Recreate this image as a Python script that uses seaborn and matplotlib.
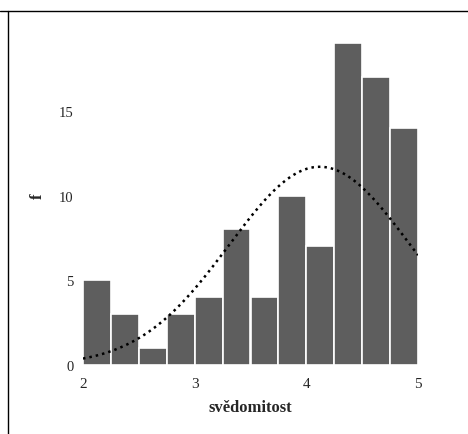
import numpy as np
import pandas as pd
import matplotlib
matplotlib.use("Agg")
import matplotlib.pyplot as plt
from matplotlib.lines import Line2D
import seaborn as sns

# Histogram of "svědomitost" scores: bin edges and frequencies
bin_edges = [2.0, 2.25, 2.5, 2.75, 3.0, 3.25, 3.5, 3.75, 4.0, 4.25, 4.5, 4.75, 5.0]
frequencies = [5, 3, 1, 3, 4, 8, 4, 10, 7, 19, 17, 14]

# Fitted normal curve parameters
curve_mean = 4.12
curve_sd = 0.81

x_ticks = [2, 3, 4, 5]
y_ticks = [0, 5, 10, 15]

sns.set_theme(style="white")
plt.rcParams["font.family"] = ["Liberation Serif", "DejaVu Serif"]

W, H = 468, 435
fig = plt.figure(figsize=(W / 100, H / 100), dpi=100)
fig.patch.set_facecolor("white")

x0, x1 = 83, 418          # pixel columns of x = 2 and x = 5
yb = 366                  # pixel row of y = 0
ymax = 20.0
px_per_unit = (366 - 44) / 19.0
ax = fig.add_axes([x0 / W, (H - yb) / H, (x1 - x0) / W, ymax * px_per_unit / H])

mids = [(a + b) / 2 for a, b in zip(bin_edges[:-1], bin_edges[1:])]
df = pd.DataFrame({"svedomitost": mids, "f": frequencies})
sns.histplot(data=df, x="svedomitost", weights="f", bins=bin_edges, ax=ax,
             color="#5e5e5e", alpha=1.0, edgecolor="white", linewidth=1.2)

n_total = sum(frequencies)
bin_width = bin_edges[1] - bin_edges[0]
xs = np.linspace(bin_edges[0], bin_edges[-1], 300)
ys = n_total * bin_width * np.exp(-0.5 * ((xs - curve_mean) / curve_sd) ** 2) / (curve_sd * np.sqrt(2 * np.pi))
sns.lineplot(x=xs, y=ys, ax=ax, color="black", linewidth=1.8,
             linestyle=(0, (1, 1.6)))

ax.set_xlim(bin_edges[0], bin_edges[-1])
ax.set_ylim(0, ymax)
for s in ax.spines.values():
    s.set_visible(False)
ax.set_xticks(x_ticks)
ax.set_yticks(y_ticks)
ax.set_xticklabels([str(v) for v in x_ticks], fontsize=11)
ax.set_yticklabels([str(v) for v in y_ticks], fontsize=10.5)
ax.tick_params(axis="x", direction="out", length=6, width=1.6, color="black", pad=3)
ax.tick_params(axis="y", direction="out", length=3, width=1.2, color="#444444", pad=4)
ax.set_xlabel("svědomitost", fontsize=12, fontweight="bold", labelpad=6)
ax.set_ylabel("f", fontsize=12, fontweight="bold", labelpad=9)
ax.grid(False)

# Outer frame lines (top and left)
fig.add_artist(Line2D([0, 1], [1 - 12 / H, 1 - 12 / H], transform=fig.transFigure,
                      color="black", linewidth=1.0))
fig.add_artist(Line2D([8 / W, 8 / W], [0, 1 - 12 / H], transform=fig.transFigure,
                      color="black", linewidth=1.0))

fig.savefig("out.png", dpi=100)
